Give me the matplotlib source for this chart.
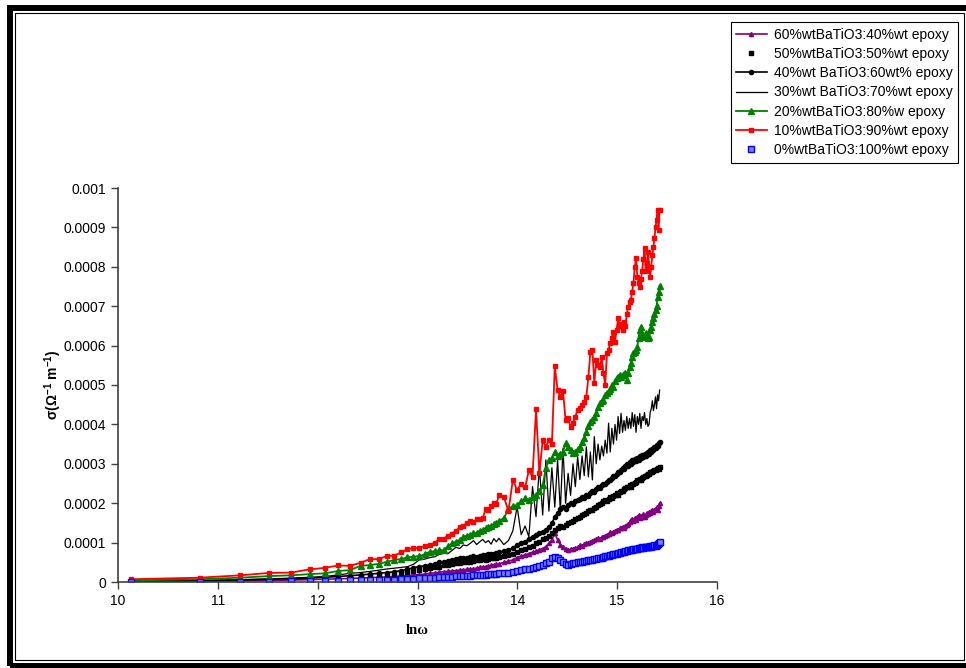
import numpy as np
import matplotlib
matplotlib.use("Agg")
import matplotlib.pyplot as plt
from matplotlib.patches import Rectangle

plt.rcParams["font.family"] = ["Liberation Sans", "DejaVu Sans"]
plt.rcParams["mathtext.default"] = "regular"

# measurement frequencies (kHz)
freq_khz = [25, 50, 75, 100, 125, 150, 175, 200, 225, 250,
            275, 300, 325, 350, 375, 400, 425, 450, 475, 500,
            525, 550, 575, 600, 625, 650, 675, 700, 725, 750,
            775, 800, 825, 850, 875, 900, 925, 950, 975, 1000,
            1050, 1100, 1150, 1200, 1250, 1300, 1350, 1400, 1450, 1500,
            1550, 1600, 1650, 1700, 1750, 1800, 1850, 1900, 1950, 2000,
            2050, 2100, 2150, 2200, 2250, 2300, 2350, 2400, 2450, 2500,
            2550, 2600, 2650, 2700, 2750, 2800, 2850, 2900, 2950, 3000,
            3050, 3100, 3150, 3200, 3250, 3300, 3350, 3400, 3450, 3500,
            3550, 3600, 3650, 3700, 3750, 3800, 3850, 3900, 3950, 4000,
            4050, 4100, 4150, 4200, 4250, 4300, 4350, 4400, 4450, 4500,
            4550, 4600, 4650, 4700, 4750, 4800, 4850, 4900, 4950, 5000]

# conductivity in units of 1e-4 S/m
s60 = [0.01, 0.02, 0.03, 0.04, 0.05, 0.06, 0.07, 0.08, 0.09, 0.10,
       0.11, 0.12, 0.13, 0.14, 0.15, 0.16, 0.18, 0.19, 0.20, 0.22,
       0.23, 0.25, 0.26, 0.27, 0.28, 0.29, 0.30, 0.31, 0.32, 0.33,
       0.34, 0.35, 0.37, 0.38, 0.39, 0.41, 0.42, 0.43, 0.45, 0.46,
       0.50, 0.53, 0.56, 0.62, 0.66, 0.69, 0.72, 0.76, 0.78, 0.82,
       0.85, 0.90, 0.98, 1.07, 1.24, 1.07, 0.95, 0.90, 0.85, 0.81,
       0.83, 0.85, 0.86, 0.88, 0.94, 0.92, 0.96, 0.98, 1.00, 1.02,
       1.04, 1.06, 1.08, 1.11, 1.09, 1.13, 1.15, 1.18, 1.20, 1.22,
       1.26, 1.24, 1.28, 1.30, 1.33, 1.32, 1.36, 1.38, 1.40, 1.36,
       1.42, 1.45, 1.48, 1.52, 1.58, 1.60, 1.55, 1.62, 1.58, 1.66,
       1.70, 1.62, 1.68, 1.65, 1.72, 1.66, 1.70, 1.75, 1.72, 1.78,
       1.74, 1.80, 1.83, 1.78, 1.82, 1.86, 1.90, 1.84, 1.92, 2.00]

s50 = [0.01, 0.02, 0.03, 0.05, 0.06, 0.07, 0.09, 0.10, 0.12, 0.13,
       0.15, 0.17, 0.18, 0.20, 0.22, 0.25, 0.28, 0.30, 0.33, 0.35,
       0.37, 0.39, 0.42, 0.44, 0.46, 0.47, 0.49, 0.50, 0.52, 0.52,
       0.54, 0.55, 0.56, 0.58, 0.57, 0.59, 0.60, 0.62, 0.61, 0.63,
       0.65, 0.68, 0.72, 0.76, 0.80, 0.83, 0.88, 0.92, 0.98, 1.02,
       1.08, 1.12, 1.18, 1.25, 1.32, 1.38, 1.42, 1.40, 1.45, 1.50,
       1.52, 1.55, 1.60, 1.62, 1.65, 1.70, 1.72, 1.75, 1.80, 1.82,
       1.83, 1.88, 1.90, 1.95, 1.98, 2.00, 2.05, 2.08, 2.06, 2.10,
       2.15, 2.12, 2.18, 2.20, 2.25, 2.22, 2.28, 2.30, 2.32, 2.35,
       2.38, 2.40, 2.42, 2.45, 2.42, 2.48, 2.50, 2.52, 2.55, 2.58,
       2.60, 2.62, 2.60, 2.65, 2.67, 2.70, 2.68, 2.72, 2.75, 2.73,
       2.78, 2.80, 2.78, 2.82, 2.85, 2.83, 2.88, 2.90, 2.88, 2.93]

s40 = [0.02, 0.03, 0.05, 0.07, 0.08, 0.10, 0.12, 0.14, 0.16, 0.18,
       0.20, 0.22, 0.24, 0.26, 0.29, 0.32, 0.36, 0.39, 0.41, 0.43,
       0.46, 0.50, 0.52, 0.54, 0.56, 0.58, 0.60, 0.60, 0.62, 0.64,
       0.65, 0.64, 0.67, 0.69, 0.68, 0.70, 0.72, 0.71, 0.74, 0.76,
       0.78, 0.82, 0.86, 0.95, 1.00, 1.02, 1.10, 1.15, 1.20, 1.24,
       1.28, 1.32, 1.40, 1.49, 1.66, 1.75, 1.85, 1.91, 1.85, 1.95,
       2.00, 1.98, 2.05, 2.08, 2.10, 2.15, 2.12, 2.20, 2.18, 2.25,
       2.30, 2.28, 2.35, 2.40, 2.38, 2.45, 2.50, 2.48, 2.55, 2.58,
       2.60, 2.65, 2.70, 2.68, 2.75, 2.80, 2.78, 2.85, 2.90, 2.88,
       2.95, 3.00, 2.95, 3.05, 3.00, 3.10, 3.05, 3.12, 3.08, 3.15,
       3.10, 3.20, 3.15, 3.22, 3.18, 3.25, 3.20, 3.28, 3.30, 3.25,
       3.35, 3.30, 3.38, 3.35, 3.42, 3.40, 3.48, 3.45, 3.52, 3.56]

s30 = [0.02, 0.04, 0.06, 0.08, 0.10, 0.12, 0.14, 0.18, 0.22, 0.24,
       0.27, 0.30, 0.33, 0.35, 0.37, 0.39, 0.45, 0.56, 0.58, 0.62,
       0.64, 0.70, 0.73, 0.72, 0.80, 0.88, 0.85, 0.94, 0.92, 0.98,
       1.05, 0.95, 1.02, 1.08, 1.00, 1.05, 0.96, 1.10, 1.02, 1.11,
       0.95, 1.05, 1.30, 1.91, 1.20, 1.42, 1.15, 2.42, 1.66, 2.93,
       1.70, 3.10, 1.80, 2.90, 1.90, 3.10, 1.80, 3.40, 2.00, 2.76,
       2.20, 3.00, 2.42, 3.18, 2.60, 3.20, 2.70, 3.43, 2.67, 3.30,
       2.59, 3.69, 3.00, 3.50, 3.10, 3.45, 3.20, 3.60, 3.27, 4.03,
       3.30, 3.90, 3.50, 4.00, 3.60, 4.20, 3.77, 4.28, 3.80, 4.10,
       3.85, 4.20, 3.90, 4.15, 3.90, 4.30, 3.95, 4.25, 3.80, 4.20,
       4.00, 4.28, 3.90, 4.20, 4.10, 4.30, 4.00, 4.15, 3.95, 4.00,
       4.30, 4.40, 4.60, 4.35, 4.50, 4.70, 4.40, 4.75, 4.60, 4.87]

s20 = [0.04, 0.07, 0.11, 0.15, 0.17, 0.20, 0.22, 0.28, 0.30, 0.41,
       0.43, 0.46, 0.51, 0.56, 0.58, 0.63, 0.64, 0.66, 0.70, 0.77,
       0.78, 0.80, 0.81, 0.91, 0.98, 1.02, 1.07, 1.15, 1.17, 1.19,
       1.24, 1.24, 1.30, 1.33, 1.36, 1.40, 1.42, 1.46, 1.49, 1.55,
       1.62, 1.85, 1.93, 1.95, 2.05, 2.12, 2.08, 2.17, 2.22, 2.30,
       2.45, 2.89, 3.10, 3.14, 3.31, 3.20, 3.25, 3.30, 3.52, 3.43,
       3.35, 3.27, 3.30, 3.38, 3.43, 3.55, 3.65, 3.80, 3.95, 4.05,
       4.11, 4.20, 4.28, 4.45, 4.54, 4.60, 4.62, 4.75, 4.79, 4.85,
       4.90, 5.00, 4.95, 5.10, 5.17, 5.20, 5.25, 5.20, 5.25, 5.28,
       5.30, 5.13, 5.30, 5.45, 5.55, 5.70, 5.80, 5.85, 5.90, 5.97,
       6.20, 6.40, 6.48, 6.30, 6.23, 6.28, 6.31, 6.25, 6.20, 6.23,
       6.40, 6.48, 6.60, 6.69, 6.80, 6.90, 7.00, 7.24, 7.35, 7.52]

s10 = [0.07, 0.11, 0.17, 0.23, 0.24, 0.32, 0.36, 0.42, 0.41, 0.49,
       0.58, 0.58, 0.66, 0.67, 0.75, 0.83, 0.86, 0.87, 0.91, 0.95,
       0.99, 1.09, 1.09, 1.18, 1.22, 1.30, 1.39, 1.43, 1.50, 1.56,
       1.52, 1.59, 1.60, 1.62, 1.85, 1.83, 1.93, 2.01, 1.98, 2.20,
       2.17, 1.80, 2.60, 2.33, 2.50, 2.40, 2.84, 2.67, 4.38, 2.76,
       3.60, 3.43, 3.60, 3.50, 5.48, 4.87, 4.70, 4.85, 4.10, 4.15,
       3.94, 4.03, 4.20, 4.37, 4.41, 4.50, 4.58, 4.70, 5.20, 5.85,
       5.89, 5.04, 5.63, 5.50, 5.46, 5.70, 5.30, 5.00, 5.80, 5.90,
       6.06, 6.20, 6.35, 6.10, 6.40, 6.69, 6.50, 6.55, 6.40, 6.60,
       6.50, 6.80, 6.99, 7.10, 7.16, 7.37, 7.60, 8.00, 8.22, 7.75,
       7.60, 7.49, 7.70, 7.90, 8.20, 8.47, 7.90, 8.10, 8.38, 8.00,
       7.75, 8.00, 8.30, 8.50, 8.72, 9.00, 9.19, 9.44, 8.93, 9.45]

s0 = [0.00, 0.00, 0.01, 0.01, 0.02, 0.02, 0.03, 0.03, 0.04, 0.04,
      0.05, 0.05, 0.06, 0.06, 0.07, 0.08, 0.08, 0.09, 0.10, 0.11,
      0.11, 0.12, 0.12, 0.13, 0.13, 0.14, 0.15, 0.15, 0.16, 0.16,
      0.17, 0.17, 0.18, 0.19, 0.19, 0.20, 0.20, 0.21, 0.21, 0.22,
      0.22, 0.23, 0.25, 0.28, 0.30, 0.32, 0.34, 0.35, 0.38, 0.41,
      0.44, 0.47, 0.52, 0.60, 0.64, 0.62, 0.56, 0.50, 0.46, 0.44,
      0.45, 0.47, 0.48, 0.50, 0.52, 0.51, 0.53, 0.54, 0.55, 0.56,
      0.56, 0.58, 0.59, 0.60, 0.62, 0.62, 0.64, 0.65, 0.66, 0.66,
      0.68, 0.69, 0.70, 0.72, 0.72, 0.73, 0.74, 0.75, 0.76, 0.76,
      0.78, 0.79, 0.80, 0.81, 0.80, 0.82, 0.83, 0.84, 0.85, 0.84,
      0.86, 0.87, 0.86, 0.88, 0.87, 0.89, 0.88, 0.90, 0.89, 0.90,
      0.91, 0.90, 0.92, 0.91, 0.93, 0.92, 0.95, 0.97, 0.98, 1.02]

labels = ["60%wtBaTiO3:40%wt epoxy",
          "50%wtBaTiO3:50%wt epoxy",
          "40%wt BaTiO3:60wt% epoxy",
          "30%wt BaTiO3:70%wt epoxy",
          "20%wtBaTiO3:80%w epoxy",
          "10%wtBaTiO3:90%wt epoxy",
          "0%wtBaTiO3:100%wt epoxy"]

x = np.log(np.array(freq_khz) * 1e3)
scale = 1e-4

fig = plt.figure(figsize=(9.66, 6.68), dpi=100)
ax = fig.add_axes([118 / 966, 86 / 668, 599 / 966, 394 / 668])

ax.plot(x, np.array(s60) * scale, color="#800080", lw=1.2, marker="^", ms=3, label=labels[0])
ax.plot(x, np.array(s50) * scale, color="black", ls="none", marker="s", ms=3, label=labels[1])
ax.plot(x, np.array(s40) * scale, color="black", lw=1.2, marker="o", ms=3, label=labels[2])
ax.plot(x, np.array(s30) * scale, color="black", lw=0.9, label=labels[3])
ax.plot(x, np.array(s20) * scale, color="#008000", lw=1.3, marker="^", ms=4, label=labels[4])
ax.plot(x, np.array(s10) * scale, color="#ff0000", lw=1.3, marker="s", ms=3.5, label=labels[5])
ax.plot(x, np.array(s0) * scale, color="#0000ff", ls="none", marker="s", ms=4,
        mfc="#7f7fff", mew=1.0, label=labels[6])

ax.set_xlim(10, 16)
ax.set_ylim(0, 0.001)
ax.set_xticks(np.arange(10, 17, 1))
ax.set_yticks(np.arange(0, 0.00101, 0.0001))
ax.yaxis.set_major_formatter(plt.FuncFormatter(lambda v, p: "%g" % round(v, 6)))
for s in ["top", "right"]:
    ax.spines[s].set_visible(False)
for s in ["left", "bottom"]:
    ax.spines[s].set_color("#404040")
    ax.spines[s].set_linewidth(1.2)
ax.tick_params(direction="out", length=5, width=1, color="#404040", labelsize=10)

ax.set_ylabel(r"σ(Ω$^{-1}$ m$^{-1}$)", fontsize=10, fontweight="bold", labelpad=0)
ax.set_xlabel("lnω", fontsize=10.5, fontweight="bold", family="Liberation Serif", labelpad=12)

leg = fig.legend(loc="upper right", bbox_to_anchor=(958 / 966, 646 / 668), fontsize=10,
                 frameon=True, fancybox=False, edgecolor="black", framealpha=1,
                 handlelength=2.2, labelspacing=0.38, borderpad=0.4, handletextpad=0.5,
                 borderaxespad=0)
leg.get_frame().set_linewidth(0.8)

# double border like the Excel chart area
fig.add_artist(Rectangle((10 / 966, 2.5 / 668), 960 / 966, 657.5 / 668, transform=fig.transFigure,
                         fill=False, ec="black", lw=4.3))
fig.add_artist(Rectangle((15 / 966, 8 / 668), 949 / 966, 647 / 668, transform=fig.transFigure,
                         fill=False, ec="black", lw=0.8))

fig.savefig("out.png", dpi=100)
